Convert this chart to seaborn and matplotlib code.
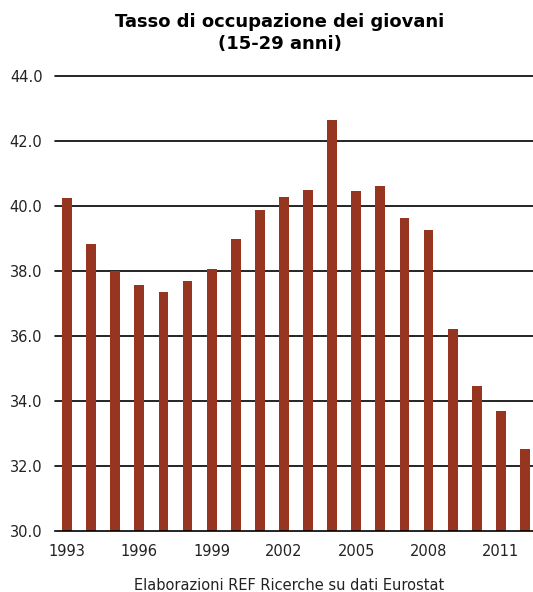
import numpy as np
import pandas as pd
import matplotlib
matplotlib.use("Agg")
import matplotlib.pyplot as plt
import seaborn as sns

years = [str(y) for y in range(1993, 2013)]
tasso = [40.25, 38.83, 38.0, 37.57, 37.35, 37.69, 38.06, 38.98, 39.88, 40.28,
         40.49, 42.65, 40.46, 40.62, 39.63, 39.26, 36.22, 34.46, 33.69, 32.52]
yticks = [30, 32, 34, 36, 38, 40, 42, 44]

data = pd.DataFrame({"anno": years, "tasso": tasso})

sns.set_style("white")
plt.rcParams["font.family"] = ["DejaVu Sans"]

fig = plt.figure(figsize=(5.33, 5.92), dpi=100)
ax = fig.add_axes([55 / 533, 61 / 592, 482 / 533, 455 / 592])
ax.set_axisbelow(True)

sns.barplot(data=data, x="anno", y="tasso", color="#963620", width=0.41,
            saturation=1, linewidth=0, edgecolor="none", ax=ax)
for p in ax.patches:
    p.set_zorder(3)

ax.set_ylim(30, 44)
ax.set_xlim(-0.5, len(years) - 0.5)
ax.set_yticks(yticks)
ax.set_yticklabels([f"{v:.1f}" for v in yticks], fontsize=10.5, color="#222222")
for v in yticks[1:]:
    ax.axhline(v, color="black", lw=1.2, zorder=0.5, clip_on=False)

# labels every 3 years, ticks between categories
ax.set_xticks(range(0, len(years), 3))
ax.set_xticklabels(years[::3], fontsize=10.5, color="#222222")
ax.set_xticks(np.arange(-0.5, len(years), 1), minor=True)
ax.tick_params(axis="x", which="major", length=0, pad=9.5)
ax.tick_params(axis="x", which="minor", length=3.6, width=1, color="black", direction="out")
ax.tick_params(axis="y", length=0, pad=9)

for s in ["top", "right", "left"]:
    ax.spines[s].set_visible(False)
ax.spines["bottom"].set_color("black")
ax.spines["bottom"].set_linewidth(1.2)
ax.spines["bottom"].set_zorder(4)
ax.set_xlabel("")
ax.set_ylabel("")

fig.text(280 / 533, 1 - 13 / 592, "Tasso di occupazione dei giovani\n(15-29 anni)",
         ha="center", va="top", fontsize=13, fontweight="bold", linespacing=1.3,
         color="black")
fig.text(289 / 533, 1 - 585 / 592, "Elaborazioni REF Ricerche su dati Eurostat",
         ha="center", va="center", fontsize=10.5, color="#222222")

fig.savefig("out.png", dpi=100)
